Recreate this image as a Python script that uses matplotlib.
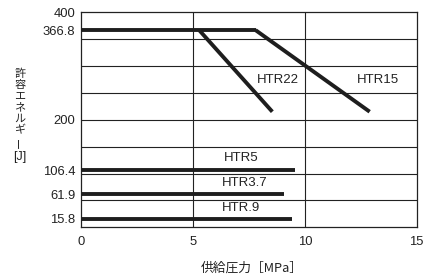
import matplotlib
matplotlib.use("Agg")
import matplotlib.pyplot as plt
import numpy as np

plt.rcParams['font.family'] = ['Liberation Sans', 'Noto Sans CJK JP', 'DejaVu Sans']

# Data
top_x = [0, 7.8]
top_y = [366.8, 366.8]
htr22_x = [5.28, 8.55]
htr22_y = [366.8, 215]
htr15_x = [7.8, 12.9]
htr15_y = [366.8, 215]
flat_names = ["HTR5", "HTR3.7", "HTR.9"]
flat_values = [106.4, 61.9, 15.8]
flat_ends = [9.55, 9.06, 9.45]
label_names = ["HTR22", "HTR15", "HTR5", "HTR3.7", "HTR.9"]
label_x = [8.8, 13.25, 7.17, 7.3, 7.17]
label_y = [274, 274, 128, 82, 35]
yticks = [15.8, 61.9, 106.4, 200, 366.8, 400]
xticks = [0, 5, 10, 15]

fig = plt.figure(figsize=(4.23, 2.79), dpi=100)
ax = fig.add_axes([0.1915, 0.1853, 0.985 - 0.1915, 0.956 - 0.1853])
ax.set_xlim(0, 15)
ax.set_ylim(0, 400)

lc = '#1e1e1e'
lw = 2.8
ax.plot(top_x, top_y, color=lc, lw=lw, solid_capstyle='butt', zorder=3)
ax.plot(htr22_x, htr22_y, color=lc, lw=lw, solid_capstyle='butt', zorder=3)
ax.plot(htr15_x, htr15_y, color=lc, lw=lw, solid_capstyle='butt', zorder=3)
for v, e in zip(flat_values, flat_ends):
    ax.plot([0, e], [v, v], color=lc, lw=lw, solid_capstyle='butt', zorder=3)

for n, x, y in zip(label_names, label_x, label_y):
    ax.text(x, y, n, ha='center', va='center', fontsize=9.5, color='#222222')

ax.set_yticks(yticks)
ax.set_yticklabels([str(t) if t not in (200, 400) else str(int(t)) for t in yticks])
ax.set_xticks(xticks)
ax.set_xticklabels([str(t) for t in xticks])
ax.tick_params(axis='both', length=0, labelsize=9.4, colors='#222222')
ax.tick_params(axis='y', pad=4)
ax.tick_params(axis='x', pad=6)

for g in np.arange(50, 400, 50):
    ax.axhline(g, color='#222222', lw=0.8, zorder=1)
for g in [5, 10]:
    ax.axvline(g, color='#222222', lw=0.8, zorder=1)
for s in ax.spines.values():
    s.set_color('#222222')
    s.set_linewidth(0.9)

# Vertical Y label
fig.text(20 / 423, 1 - 69 / 279, "許\n容\nエ\nネ\nル\nギ", ha='center', va='top',
         fontsize=8, linespacing=1.13, family=['Noto Sans CJK JP'], color='#222222')
fig.text(20 / 423, 1 - 142 / 279, "ー", ha='center', va='center',
         fontsize=8, family=['Noto Sans CJK JP'], rotation=90, color='#222222')
fig.text(20 / 423, 1 - 157 / 279, "[J]", ha='center', va='center',
         fontsize=9, family=['Liberation Sans', 'Noto Sans CJK JP'], color='#222222')

fig.text(252 / 423, 1 - 268 / 279, "供給圧力［MPa］", ha='center', va='center',
         fontsize=9.2, family=['Noto Sans CJK JP', 'Liberation Sans'], color='#222222')

fig.savefig("out.png", dpi=100)
